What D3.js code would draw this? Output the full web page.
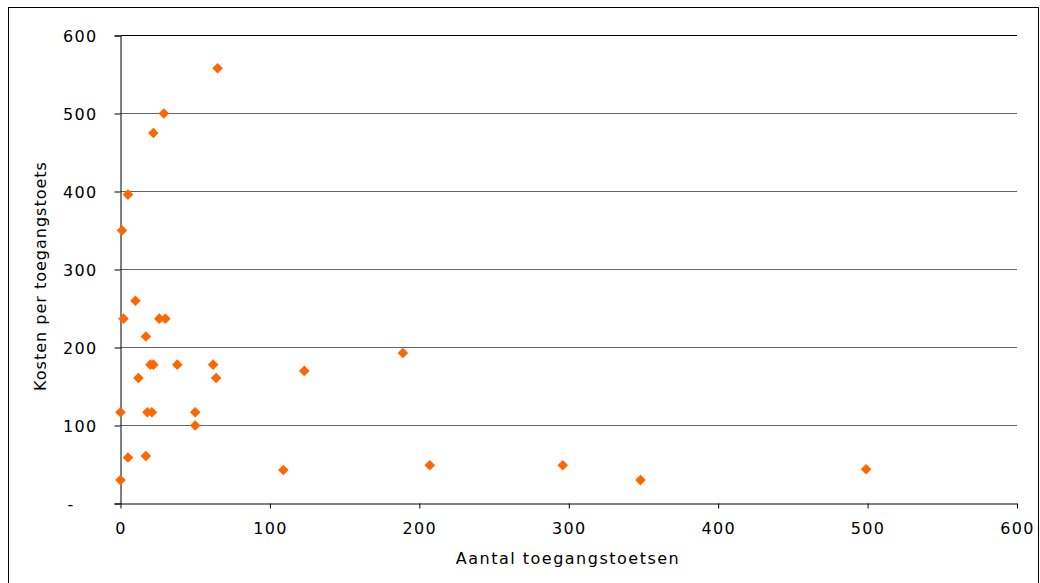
<!DOCTYPE html>
<html>
<head>
<meta charset="utf-8">
<script src="https://cdn.jsdelivr.net/npm/d3@7"></script>
<style>
  html, body { margin: 0; padding: 0; background: #fff; }
  svg { display: block; }
  text { font-family: "DejaVu Sans", Verdana, sans-serif; fill: #000; }
</style>
</head>
<body>
<svg id="chart" width="1040" height="583"></svg>
<script>
// ---- data ----
const xValues = [65, 29, 22, 5, 1, 10, 2, 26, 30, 17, 20, 22, 38, 62, 12, 64, 0, 18, 21, 50, 50, 5, 17, 0, 123, 189, 109, 207, 296, 348, 499];
const yValues = [558, 500, 475, 396, 350, 260, 237, 237, 237, 214, 178, 178, 178, 178, 161, 161, 117, 117, 117, 117, 100, 59, 61, 30, 170, 193, 43, 49, 49, 30, 44];
const xTicks = [0, 100, 200, 300, 400, 500, 600];
const yTicks = [0, 100, 200, 300, 400, 500, 600];
const xTitle = "Aantal toegangstoetsen";
const yTitle = "Kosten per toegangstoets";

const points = xValues.map((x, i) => ({ x, y: yValues[i] }));

const svg = d3.select("#chart");

// outer frame
svg.append("rect")
  .attr("x", 8.5).attr("y", 7.5)
  .attr("width", 1030).attr("height", 600)
  .attr("fill", "none").attr("stroke", "#000").attr("stroke-width", 1);

const x = d3.scaleLinear().domain([0, 600]).range([120.5, 1017]);
const y = d3.scaleLinear().domain([0, 600]).range([503.5, 35.5]);

// gridlines
svg.append("g")
  .selectAll("line")
  .data(yTicks.filter(d => d > 0))
  .join("line")
  .attr("x1", x(0)).attr("x2", x(600))
  .attr("y1", d => y(d)).attr("y2", d => y(d))
  .attr("stroke", d => d === 600 ? "#000" : "#666")
  .attr("stroke-width", 1);

// y axis
const yAxis = svg.append("g")
  .attr("transform", `translate(${x(0)},0)`)
  .call(d3.axisLeft(y).tickValues(yTicks).tickSize(6).tickPadding(17)
    .tickFormat(d => d === 0 ? "-" : d));
yAxis.select(".domain").attr("stroke", "#000");
yAxis.selectAll(".tick line").attr("stroke", "#000");
yAxis.selectAll(".tick text")
  .style("font-size", "16px")
  .style("letter-spacing", "1.3px")
  .attr("dy", "0.36em");
yAxis.selectAll(".tick text").filter(d => d === 0)
  .attr("text-anchor", "middle")
  .attr("x", 71 - x(0));

// x axis
const xAxis = svg.append("g")
  .attr("transform", `translate(0,${y(0)})`)
  .call(d3.axisBottom(x).tickValues(xTicks).tickSize(5).tickPadding(14)
    .tickSizeOuter(0));
xAxis.select(".domain").attr("stroke", "#000");
xAxis.selectAll(".tick line").attr("stroke", "#000");
xAxis.selectAll(".tick text")
  .style("font-size", "16px")
  .style("letter-spacing", "1.3px");

// axis titles
svg.append("text")
  .attr("x", 568)
  .attr("y", 564)
  .attr("text-anchor", "middle")
  .style("font-size", "16px")
  .style("letter-spacing", "1.5px")
  .text(xTitle);

svg.append("text")
  .attr("transform", `translate(46,${276}) rotate(-90)`)
  .attr("text-anchor", "middle")
  .style("font-size", "16px")
  .style("letter-spacing", "1px")
  .text(yTitle);

// markers
const diamond = d3.symbol().type(d3.symbolSquare).size(56);
svg.append("g")
  .selectAll("path")
  .data(points)
  .join("path")
  .attr("d", diamond)
  .attr("transform", d => `translate(${x(d.x)},${y(d.y)}) rotate(45)`)
  .attr("fill", "#FF6600");
</script>
</body>
</html>
